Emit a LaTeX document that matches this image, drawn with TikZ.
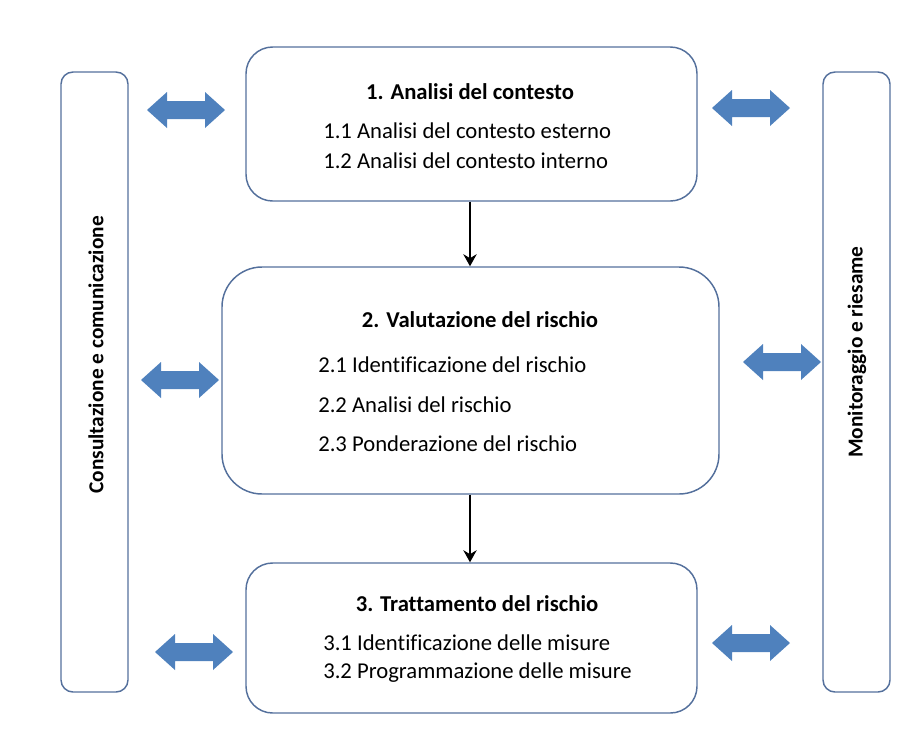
\documentclass[tikz,border=0pt]{standalone}
\usepackage{fontspec}
\setmainfont[Ligatures=NoCommon]{Carlito}
\usetikzlibrary{arrows.meta}
\definecolor{edge}{RGB}{84,112,156}
\definecolor{afill}{RGB}{79,129,189}
\tikzset{
  box/.style={draw=edge, line width=1.1pt, inner sep=0pt},
  txt/.style={inner sep=0pt, font=\fontsize{17}{20}\selectfont, anchor=west},
  ttl/.style={inner sep=0pt, font=\fontsize{17}{20}\selectfont\bfseries},
  side/.style={inner sep=0pt, font=\fontsize{16}{19}\selectfont\bfseries, rotate=90},
  flow/.style={line width=1.8pt, -{Stealth[length=9pt,width=10pt]}},
  darrow/.style={fill=afill, draw=none}
}
\newcommand\dblarrow[2]{%
  \fill[darrow, shift={(#1,#2)}] (-39,0) -- (-19,-18) -- (-19,-9) -- (19,-9) -- (19,-18) -- (39,0) -- (19,18) -- (19,9) -- (-19,9) -- (-19,18) -- cycle;}
\begin{document}
\begin{tikzpicture}[x=0.75pt,y=-0.75pt]
\useasboundingbox (0,0) rectangle (904,733);
% side bars
\node[box, rounded corners=9pt, minimum width={67*0.75pt}, minimum height={620*0.75pt}] (lbar) at (94.5,382) {};
\node[box, rounded corners=9pt, minimum width={67*0.75pt}, minimum height={620*0.75pt}] (rbar) at (856.5,382) {};
\node[side] (ltxt) at (96,355) {Consultazione e comunicazione};
\node[side] (rtxt) at (857,352) {Monitoraggio e riesame};
% main boxes
\node[box, rounded corners=20pt, minimum width={451*0.75pt}, minimum height={154*0.75pt}] (b1) at (471.5,124) {};
\node[box, rounded corners=30pt, minimum width={497*0.75pt}, minimum height={227*0.75pt}] (b2) at (470.5,380.5) {};
\node[box, rounded corners=20pt, minimum width={451*0.75pt}, minimum height={150*0.75pt}] (b3) at (471.5,638) {};
% texts
\node[ttl] (t1) at (470,92) {1. Analisi del contesto};
\node[txt] (t11) at (323,131) {1.1 Analisi del contesto esterno};
\node[txt] (t12) at (323,161) {1.2 Analisi del contesto interno};
\node[ttl] (t2) at (480,320) {2. Valutazione del rischio};
\node[txt] (t21) at (318,365) {2.1 Identificazione del rischio};
\node[txt] (t22) at (318,405) {2.2 Analisi del rischio};
\node[txt] (t23) at (318,444) {2.3 Ponderazione del rischio};
\node[ttl] (t3) at (477,604) {3. Trattamento del rischio};
\node[txt] (t31) at (323,643) {3.1 Identificazione delle misure};
\node[txt] (t32) at (323,673) {3.2 Programmazione delle misure};
% flow arrows
\draw[flow] (b1.south -| 470,0) -- (b2.north -| 470,0);
\draw[flow] (b2.south -| 470,0) -- (b3.north -| 470,0);
% double arrows
\dblarrow{186}{110}
\dblarrow{751}{108}
\dblarrow{180}{380}
\dblarrow{782}{362}
\dblarrow{194}{652}
\dblarrow{751}{643}
\end{tikzpicture}
\end{document}
